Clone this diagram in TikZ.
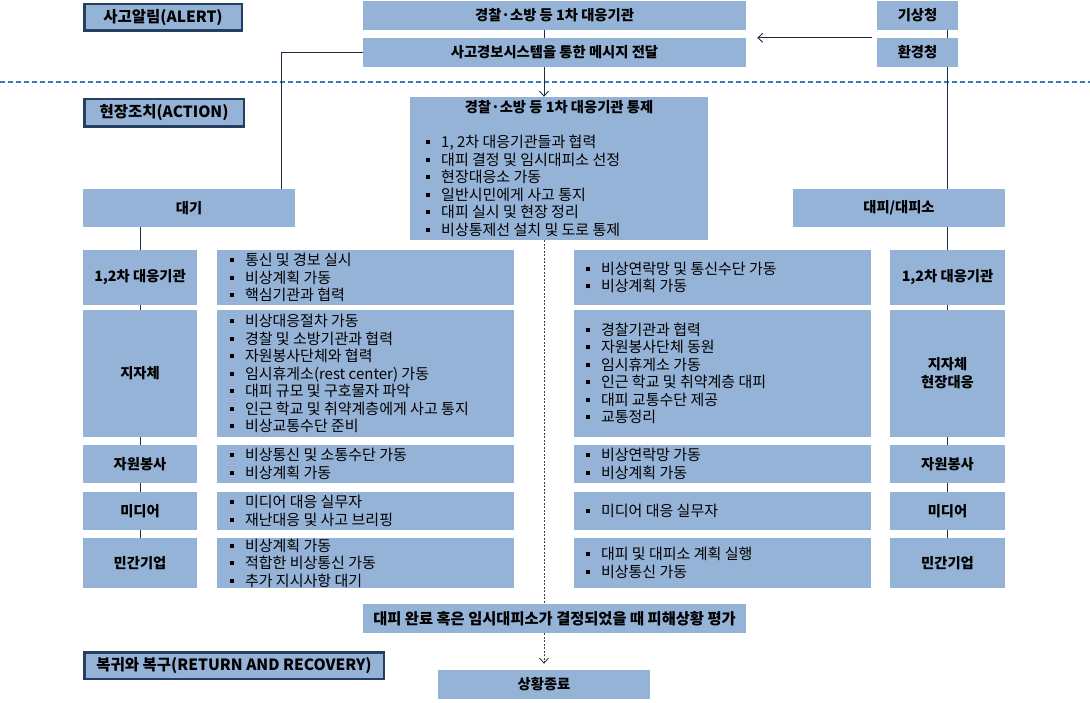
\documentclass[tikz,border=0pt]{standalone}
\usepackage{fontspec}
\setmainfont{Noto Sans CJK KR}
\usetikzlibrary{arrows.meta,calc,backgrounds}
\definecolor{boxfill}{HTML}{95B3D7}
\definecolor{hdrline}{HTML}{243F60}
\definecolor{sepline}{HTML}{3C78C3}
\definecolor{conncol}{HTML}{1F2A44}
\newcommand\bul{\makebox[15pt][l]{\raisebox{3.5pt}{\rule{4pt}{4pt}}}}
\newcommand\btxt{\fontsize{15pt}{17.5pt}\selectfont}
\newcommand\ltxt{\fontsize{14.3pt}{18pt}\selectfont\bfseries}
\newcommand\htxt{\fontsize{15.5pt}{18pt}\selectfont\bfseries}
\tikzset{
 box/.style={fill=boxfill, draw=none, inner sep=0pt, align=center, font=\ltxt},
 hdr/.style={fill=boxfill, draw=hdrline, line width=2.5pt, inner sep=0pt, font=\htxt},
 list/.style={anchor=west, align=left, inner sep=0pt, font=\btxt},
 conn/.style={draw=conncol, line width=0.9pt},
 sepln/.style={draw=sepline, line width=1.1pt, dash pattern=on 5pt off 3pt},
 mdash/.style={draw=black!75, line width=0.8pt, dash pattern=on 2pt off 1.5pt},
 arr/.style={-{Straight Barb[length=5pt,width=9pt,line width=0.9pt]}},
}
\begin{document}
\begin{tikzpicture}[x=1pt,y=-1pt]
\useasboundingbox (0,0) rectangle (1090,703);
% headers
\node[hdr, minimum width=157.5pt, minimum height=26.5pt] (alert) at (163,17.5) {사고알림(ALERT)};
\node[hdr, minimum width=159.5pt, minimum height=27.5pt] (action) at (164,113) {현장조치(ACTION)};
\node[hdr, minimum width=299.5pt, minimum height=26.5pt] (ret) at (234,665.5) {복귀와 복구(RETURN AND RECOVERY)};
% top boxes
\node[box, minimum width=383pt, minimum height=29pt] (n1) at (554.5,15.5) {경찰·소방 등 1차 대응기관};
\node[box, minimum width=383pt, minimum height=29pt] (n2) at (554.5,52.5) {사고경보시스템을 통한 메시지 전달};
\node[box, minimum width=81pt, minimum height=29pt] (kisang) at (917.5,15.5) {기상청};
\node[box, minimum width=81pt, minimum height=29pt] (hwan) at (917.5,52.5) {환경청};
% control box
\node[box, minimum width=298pt, minimum height=143pt] (tongje) at (559,168.5) {};
\node[inner sep=0pt, font=\ltxt] (ttitle) at (559,107) {경찰·소방 등 1차 대응기관 통제};
\node[list] (tlist) at (426,186) {\bul 1, 2차 대응기관들과 협력\\\bul 대피 결정 및 임시대피소 선정\\\bul 현장대응소 가동\\\bul 일반시민에게 사고 통지\\\bul 대피 실시 및 현장 정리\\\bul 비상통제선 설치 및 도로 통제};
% column heads
\node[box, minimum width=212pt, minimum height=38pt] (daegi) at (189,208) {대기};
\node[box, minimum width=212pt, minimum height=38pt] (daepi) at (899,208) {대피/대피소};
% left labels
\node[box, minimum width=114pt, minimum height=55pt] (l1) at (140,277.5) {1,2차 대응기관};
\node[box, minimum width=114pt, minimum height=127pt] (l2) at (140,373.5) {지자체};
\node[box, minimum width=114pt, minimum height=38pt] (l3) at (140,464) {자원봉사};
\node[box, minimum width=114pt, minimum height=38pt] (l4) at (140,511) {미디어};
\node[box, minimum width=114pt, minimum height=50pt] (l5) at (140,563) {민간기업};
% right labels
\node[box, minimum width=115pt, minimum height=55pt] (r1) at (947.5,277.5) {1,2차 대응기관};
\node[box, minimum width=115pt, minimum height=127pt] (r2) at (947.5,373.5) {지자체\\현장대응};
\node[box, minimum width=115pt, minimum height=38pt] (r3) at (947.5,464) {자원봉사};
\node[box, minimum width=115pt, minimum height=38pt] (r4) at (947.5,511) {미디어};
\node[box, minimum width=115pt, minimum height=50pt] (r5) at (947.5,563) {민간기업};
% left bullet boxes
\node[box, minimum width=297pt, minimum height=55pt] (lb1) at (365.5,277.5) {};
\node[box, minimum width=297pt, minimum height=127pt] (lb2) at (365.5,373.5) {};
\node[box, minimum width=297pt, minimum height=38pt] (lb3) at (365.5,464) {};
\node[box, minimum width=297pt, minimum height=38pt] (lb4) at (365.5,511) {};
\node[box, minimum width=297pt, minimum height=50pt] (lb5) at (365.5,563) {};
% middle bullet boxes
\node[box, minimum width=297pt, minimum height=55pt] (mb1) at (722.5,277.5) {};
\node[box, minimum width=297pt, minimum height=127pt] (mb2) at (722.5,373.5) {};
\node[box, minimum width=297pt, minimum height=38pt] (mb3) at (722.5,464) {};
\node[box, minimum width=297pt, minimum height=38pt] (mb4) at (722.5,511) {};
\node[box, minimum width=297pt, minimum height=50pt] (mb5) at (722.5,563) {};
% lists
\node[list] (lt1) at ($(lb1.west)+(13,0)$) {\bul 통신 및 경보 실시\\\bul 비상계획 가동\\\bul 핵심기관과 협력};
\node[list] (lt2) at ($(lb2.west)+(13,0)$) {\bul 비상대응절차 가동\\\bul 경찰 및 소방기관과 협력\\\bul 자원봉사단체와 협력\\\bul 임시휴게소(rest center) 가동\\\bul 대피 규모 및 구호물자 파악\\\bul 인근 학교 및 취약계층에게 사고 통지\\\bul 비상교통수단 준비};
\node[list] (lt3) at ($(lb3.west)+(13,0)$) {\bul 비상통신 및 소통수단 가동\\\bul 비상계획 가동};
\node[list] (lt4) at ($(lb4.west)+(13,0)$) {\bul 미디어 대응 실무자\\\bul 재난대응 및 사고 브리핑};
\node[list] (lt5) at ($(lb5.west)+(13,0)$) {\bul 비상계획 가동\\\bul 적합한 비상통신 가동\\\bul 추가 지시사항 대기};
\node[list] (mt1) at ($(mb1.west)+(12,0)$) {\bul 비상연락망 및 통신수단 가동\\\bul 비상계획 가동};
\node[list] (mt2) at ($(mb2.west)+(12,0)$) {\bul 경찰기관과 협력\\\bul 자원봉사단체 동원\\\bul 임시휴게소 가동\\\bul 인근 학교 및 취약계층 대피\\\bul 대피 교통수단 제공\\\bul 교통정리};
\node[list] (mt3) at ($(mb3.west)+(12,0)$) {\bul 비상연락망 가동\\\bul 비상계획 가동};
\node[list] (mt4) at ($(mb4.west)+(12,0)$) {\bul 미디어 대응 실무자};
\node[list] (mt5) at ($(mb5.west)+(12,0)$) {\bul 대피 및 대피소 계획 실행\\\bul 비상통신 가동};
% bottom
\node[box, minimum width=383pt, minimum height=29pt, font=\fontsize{15.3pt}{18pt}\selectfont\bfseries] (eval) at (554.5,618.5) {대피 완료 혹은 임시대피소가 결정되었을 때 피해상황 평가};
\node[box, minimum width=212pt, minimum height=29pt] (fin) at (544,684.5) {상황종료};
\coordinate (mx) at (544,0);
% connectors
\begin{scope}[on background layer]
\draw[sepln] (0,82) -- (1090,82);
\draw[conn] (kisang.south -| r1) -- (r5.north);
\draw[conn] (daegi.south -| l1) -- (l5.north);
\draw[conn] (n2.west) -| ([xshift=92pt]daegi.north);
\draw[conn] (n1.south -| mx) -- (n2.north -| mx);
\draw[conn, arr] (n2.south -| mx) -- (tongje.north -| mx);
\draw[conn, arr] ($(hwan.north west)+(-5,0)$) -- ($(n2.north east)+(11,0)$);
\draw[mdash] (tongje.south -| mx) -- (eval.north -| mx);
\draw[mdash, arr, shorten >=6pt] (eval.south -| mx) -- (fin.north);
\end{scope}
\end{tikzpicture}
\end{document}
